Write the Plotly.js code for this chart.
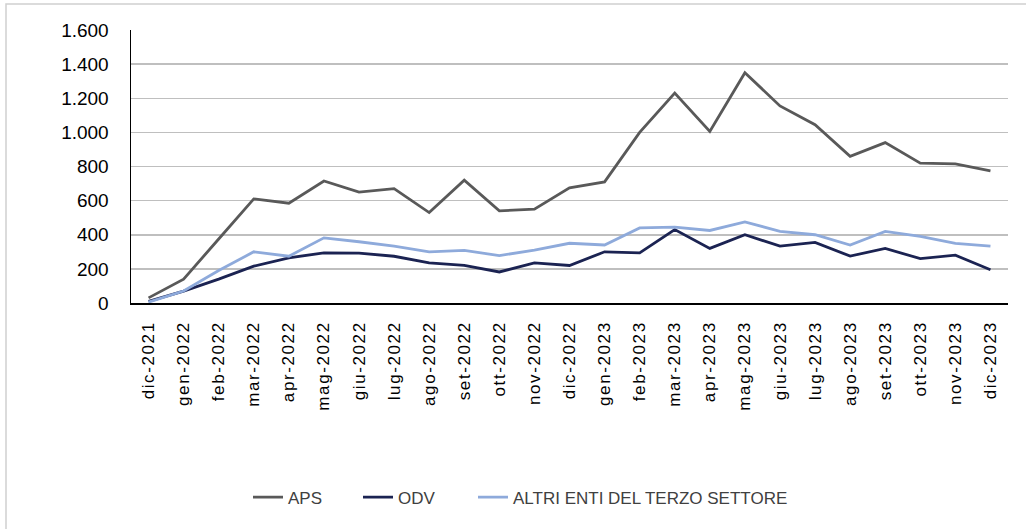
<!DOCTYPE html>
<html>
<head>
<meta charset="utf-8">
<script src="https://cdn.plot.ly/plotly-3.0.1.min.js"></script>
<style>
  html, body { margin: 0; padding: 0; background: #fff; }
  #chart { width: 1026px; height: 529px; }
  .xtick text { letter-spacing: 1.6px; }
</style>
</head>
<body>
<div id="chart"></div>
<script>
const months = ["dic-2021","gen-2022","feb-2022","mar-2022","apr-2022","mag-2022","giu-2022","lug-2022","ago-2022","set-2022","ott-2022","nov-2022","dic-2022","gen-2023","feb-2023","mar-2023","apr-2023","mag-2023","giu-2023","lug-2023","ago-2023","set-2023","ott-2023","nov-2023","dic-2023"];
const aps = [30,140,375,610,585,715,650,670,530,720,540,550,675,710,1000,1230,1005,1350,1155,1045,860,940,820,815,775];
const odv = [10,70,140,216,265,294,292,274,235,221,182,235,220,300,294,430,320,400,333,355,275,320,260,280,195];
const altri = [5,70,190,300,274,382,359,333,300,308,278,310,350,340,440,445,425,475,420,400,340,420,390,350,333];
const yTicks = [0,200,400,600,800,1000,1200,1400,1600];
const yTickText = ["0","200","400","600","800","1.000","1.200","1.400","1.600"];

const seriesNames = ["APS","ODV","ALTRI ENTI DEL TERZO SETTORE"];
const seriesColors = ["#595959","#1b2352","#8eaadb"];
const seriesData = [aps, odv, altri];
const legendIds = ["legend","legend2","legend3"];

const traces = seriesData.map((d, i) => ({
  type: "scatter",
  mode: "lines",
  x: months,
  y: d,
  name: seriesNames[i],
  legend: legendIds[i],
  line: { color: seriesColors[i], width: 2.8 },
  hoverinfo: "skip"
}));

const L = 131, R = 18, T = 30, B = 226.3;
const W = 1026 - L - R, H = 529 - T - B;
const px = v => (v - L) / W;
const py = v => (529 - B - v) / H;

const legendFont = { family: "Liberation Sans, Arial, sans-serif", size: 17, color: "#404040" };
const mkLegend = xPix => ({
  orientation: "h",
  x: px(xPix), xanchor: "left",
  y: py(497), yanchor: "middle",
  font: legendFont,
  itemwidth: 30,
  bgcolor: "rgba(0,0,0,0)"
});

const layout = {
  width: 1026, height: 529,
  margin: { l: L, r: R, t: T, b: B },
  paper_bgcolor: "#ffffff",
  plot_bgcolor: "#ffffff",
  showlegend: true,
  legend: mkLegend(248),
  legend2: mkLegend(358),
  legend3: mkLegend(473),
  xaxis: {
    type: "category",
    range: [-0.5, months.length - 0.5],
    tickvals: months,
    ticktext: months,
    tickangle: -90,
    tickfont: { family: "Liberation Sans, Arial, sans-serif", size: 17, color: "#000000" },
    showgrid: false,
    showline: true,
    linecolor: "#000000",
    linewidth: 1.5,
    ticks: "",
    ticklabelstandoff: 10,
    zeroline: false,
    fixedrange: true
  },
  yaxis: {
    range: [0, 1600],
    tickvals: yTicks,
    ticktext: yTickText,
    tickfont: { family: "Liberation Sans, Arial, sans-serif", size: 19, color: "#000000" },
    showgrid: true,
    gridcolor: "#bfbfbf",
    gridwidth: 1.5,
    showline: true,
    linecolor: "#000000",
    linewidth: 1.5,
    ticks: "",
    ticklabelstandoff: 17,
    zeroline: false,
    fixedrange: true
  },
  shapes: [{
    type: "rect", xref: "paper", yref: "paper",
    x0: px(6), x1: px(1040), y0: py(4), y1: py(545),
    line: { color: "#d0d0d0", width: 1.5 },
    fillcolor: "rgba(0,0,0,0)",
    layer: "below"
  }]
};

Plotly.newPlot("chart", traces, layout, { displayModeBar: false, staticPlot: true });
</script>
</body>
</html>
